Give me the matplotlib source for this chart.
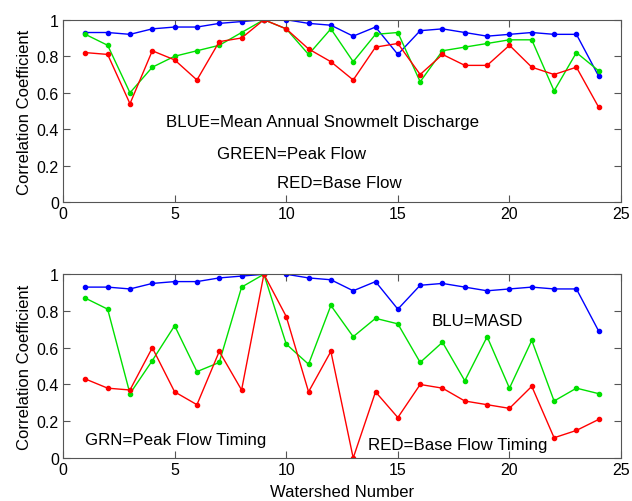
import numpy as np
import matplotlib.pyplot as plt

plt.rcParams['font.family'] = ['Liberation Sans', 'DejaVu Sans']

watershed = np.arange(1, 25)

# top panel: snowmelt discharge, peak flow, base flow
blue_top = [0.93, 0.93, 0.92, 0.95, 0.96, 0.96, 0.98, 0.99, 1.00, 1.00, 0.98, 0.97,
            0.91, 0.96, 0.81, 0.94, 0.95, 0.93, 0.91, 0.92, 0.93, 0.92, 0.92, 0.69]
green_top = [0.92, 0.86, 0.60, 0.74, 0.80, 0.83, 0.86, 0.93, 1.00, 0.95, 0.81, 0.95,
             0.77, 0.92, 0.93, 0.66, 0.83, 0.85, 0.87, 0.89, 0.89, 0.61, 0.82, 0.72]
red_top = [0.82, 0.81, 0.54, 0.83, 0.78, 0.67, 0.88, 0.90, 1.00, 0.95, 0.84, 0.77,
           0.67, 0.85, 0.87, 0.70, 0.81, 0.75, 0.75, 0.86, 0.74, 0.70, 0.74, 0.52]

# bottom panel: MASD, peak flow timing, base flow timing
blue_bot = [0.93, 0.93, 0.92, 0.95, 0.96, 0.96, 0.98, 0.99, 1.00, 1.00, 0.98, 0.97,
            0.91, 0.96, 0.81, 0.94, 0.95, 0.93, 0.91, 0.92, 0.93, 0.92, 0.92, 0.69]
green_bot = [0.87, 0.81, 0.35, 0.53, 0.72, 0.47, 0.52, 0.93, 1.00, 0.62, 0.51, 0.83,
             0.66, 0.76, 0.73, 0.52, 0.63, 0.42, 0.66, 0.38, 0.64, 0.31, 0.38, 0.35]
red_bot = [0.43, 0.38, 0.37, 0.60, 0.36, 0.29, 0.58, 0.37, 1.00, 0.77, 0.36, 0.58,
           0.00, 0.36, 0.22, 0.40, 0.38, 0.31, 0.29, 0.27, 0.39, 0.11, 0.15, 0.21]

fig = plt.figure(figsize=(6.32, 5.02), dpi=100)
ax1 = fig.add_axes([0.0997, 0.595, 0.883, 0.3637])
ax2 = fig.add_axes([0.0997, 0.0857, 0.883, 0.366])


def draw(ax, b, g, r):
    ax.plot(watershed, b, '-o', color='#0000ff', lw=1, ms=3)
    ax.plot(watershed, g, '-o', color='#00e000', lw=1, ms=3)
    ax.plot(watershed, r, '-o', color='#ff0000', lw=1, ms=3)
    ax.set_xlim(0, 25)
    ax.set_ylim(0, 1)
    ax.set_xticks([0, 5, 10, 15, 20, 25])
    ax.set_yticks([0, 0.2, 0.4, 0.6, 0.8, 1])
    ax.set_yticklabels(['0', '0.2', '0.4', '0.6', '0.8', '1'])
    ax.tick_params(direction='in', top=True, right=True, labelsize=11.5,
                   length=5, color='#555555', pad=3)
    for s in ax.spines.values():
        s.set_color('#555555')
    ax.set_ylabel('Correlation Coefficient', fontsize=12, labelpad=3)


draw(ax1, blue_top, green_top, red_top)
ax1.text(4.6, 0.44, 'BLUE=Mean Annual Snowmelt Discharge', fontsize=12.2, va='center')
ax1.text(6.9, 0.27, 'GREEN=Peak Flow', fontsize=12.2, va='center')
ax1.text(9.6, 0.11, 'RED=Base Flow', fontsize=12.2, va='center')

draw(ax2, blue_bot, green_bot, red_bot)
ax2.text(16.5, 0.75, 'BLU=MASD', fontsize=12.2, va='center')
ax2.text(1.0, 0.10, 'GRN=Peak Flow Timing', fontsize=12.2, va='center')
ax2.text(13.65, 0.076, 'RED=Base Flow Timing', fontsize=12.2, va='center')
ax2.set_xlabel('Watershed Number', fontsize=12, labelpad=5)

fig.savefig('out.png', dpi=100)
